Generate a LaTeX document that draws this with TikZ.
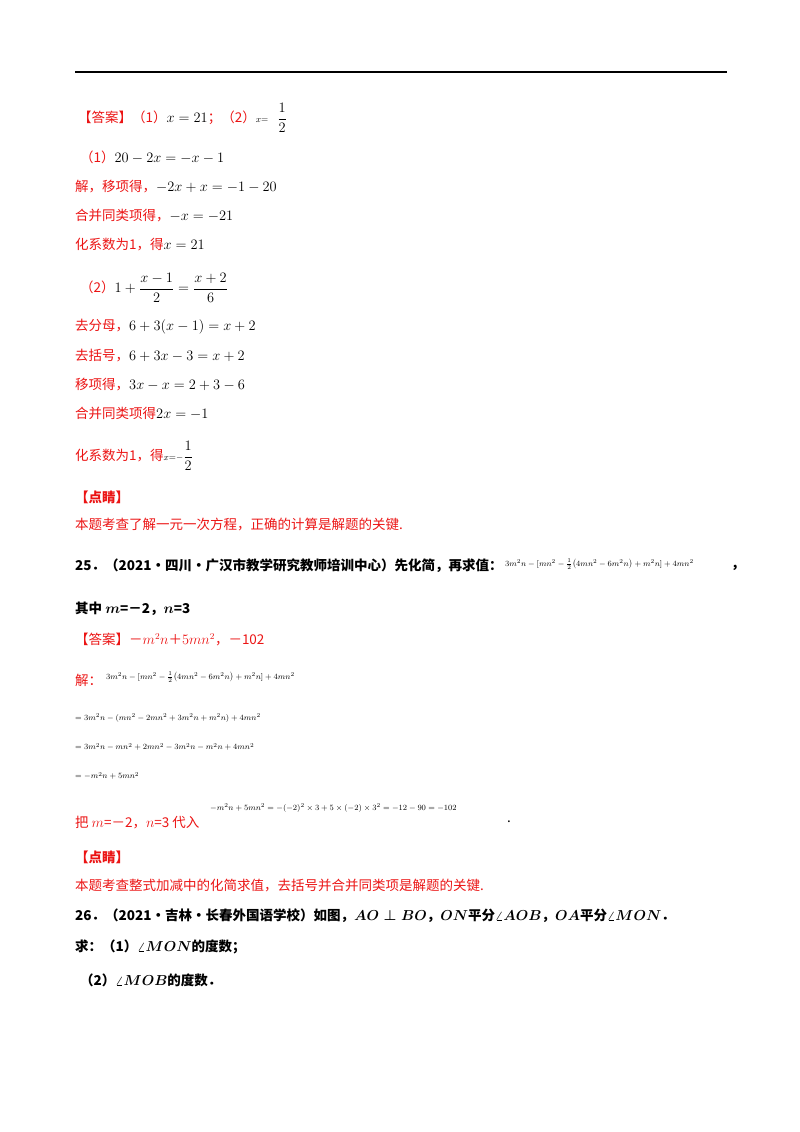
\documentclass[tikz,border=0pt]{standalone}
\usepackage{amsmath}
\usepackage{fontspec}
\newfontfamily\cjk{Noto Sans CJK SC}
\definecolor{ans}{RGB}{235,20,20}
\begin{document}
\begin{tikzpicture}[x=1pt,y=-1pt,
  t/.style={anchor=west,inner sep=0pt,font=\fontsize{13.5}{15}\selectfont\cjk},
  r/.style={t,text=ans},
  fm/.style={anchor=west,inner sep=0pt,font=\fontsize{8.5}{10}\selectfont},
  b/.style={t,font=\fontsize{13.5}{15}\selectfont\cjk\bfseries}]
\useasboundingbox (0,0) rectangle (800,1132);
\draw[line width=1.3pt] (75,72) -- (727,72);
\node[r] (a0) at (78,118) {【答案】（1）\textcolor{black}{$x=21$}；（2）\textcolor{black}{$\scriptstyle x=\;\;\displaystyle\frac12$}};
\node[r] (a1) at (80,157) {（1）\textcolor{black}{$20-2x=-x-1$}};
\node[r] (a2) at (75,187) {解，移项得，\textcolor{black}{$-2x+x=-1-20$}};
\node[r] (a3) at (75,216) {合并同类项得，\textcolor{black}{$-x=-21$}};
\node[r] (a4) at (75,245) {化系数为1，得\textcolor{black}{$x=21$}};
\node[r] (a5) at (80,288) {（2）\textcolor{black}{$1+\dfrac{x-1}{2}=\dfrac{x+2}{6}$}};
\node[r] (a6) at (75,327) {去分母，\textcolor{black}{$6+3(x-1)=x+2$}};
\node[r] (a7) at (75,356) {去括号，\textcolor{black}{$6+3x-3=x+2$}};
\node[r] (a8) at (75,385) {移项得，\textcolor{black}{$3x-x=2+3-6$}};
\node[r] (a9) at (75,413) {合并同类项得\textcolor{black}{$2x=-1$}};
\node[r] (a10) at (75,456) {化系数为1，得\textcolor{black}{$\scriptstyle x=-\displaystyle\frac12$}};
\node[r,font=\fontsize{13.5}{15}\selectfont\cjk\bfseries] (d1) at (75,497) {【点睛】};
\node[r] (d2) at (75,525) {本题考查了解一元一次方程，正确的计算是解题的关键.};
\node[b] (q1) at (75,566) {25．（2021·四川·广汉市教学研究教师培训中心）先化简，再求值：};
\node[fm] (q1m) at (505,564) {$3m^2n-[mn^2-\frac12\bigl(4mn^2-6m^2n\bigr)+m^2n]+4mn^2$};
\node[b] (q1c) at (731,568) {，};
\node[b] (q2) at (75,609) {其中 $\boldsymbol{m}$=－2，$\boldsymbol{n}$=3};
\node[r] (s0) at (75,640) {【答案】\textcolor{ans}{－$m^2n$＋$5mn^2$，－102}};
\node[r] (s1) at (75,680) {解：};
\node[fm] (s1m) at (106,677) {$3m^2n-[mn^2-\frac12\bigl(4mn^2-6m^2n\bigr)+m^2n]+4mn^2$};
\node[fm] (s2) at (75,718) {$=3m^2n-(mn^2-2mn^2+3m^2n+m^2n)+4mn^2$};
\node[fm] (s3) at (75,747) {$=3m^2n-mn^2+2mn^2-3m^2n-m^2n+4mn^2$};
\node[fm] (s4) at (75,776) {$=-m^2n+5mn^2$};
\node[r] (s5) at (75,823) {把 $m$=－2，$n$=3 代入};
\node[fm] (s5m) at (210,808) {$-m^2n+5mn^2=-(-2)^2\times3+5\times(-2)\times3^2=-12-90=-102$};
\node[t] (s5d) at (507,822) {.};
\node[r,font=\fontsize{13.5}{15}\selectfont\cjk\bfseries] (d3) at (75,857) {【点睛】};
\node[r] (d4) at (75,886) {本题考查整式加减中的化简求值，去括号并合并同类项是解题的关键.};
\node[b] (p1) at (75,916) {26．（2021·吉林·长春外国语学校）如图，$\boldsymbol{AO\perp BO}$，$\boldsymbol{ON}$平分$\boldsymbol{\angle AOB}$，$\boldsymbol{OA}$平分$\boldsymbol{\angle MON}$．};
\node[b] (p2) at (75,947) {求：（1）$\boldsymbol{\angle MON}$的度数；};
\node[b] (p3) at (80,980) {（2）$\boldsymbol{\angle MOB}$的度数．};
\end{tikzpicture}
\end{document}
